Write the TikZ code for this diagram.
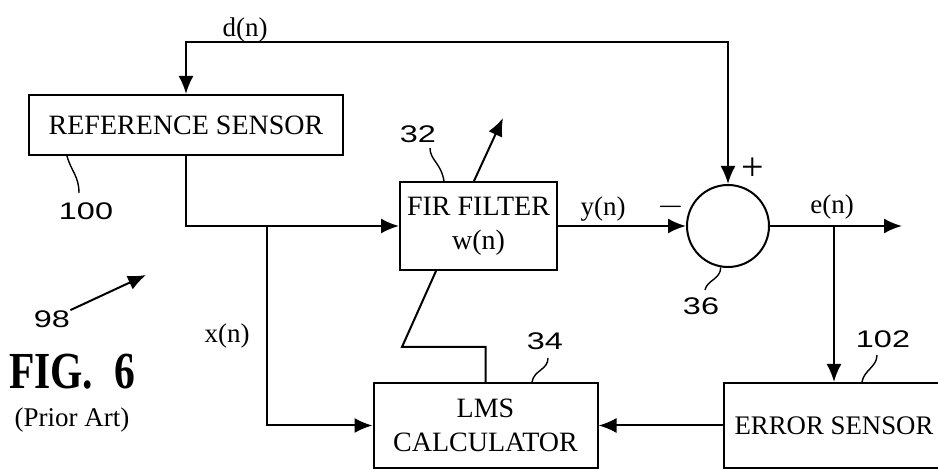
\documentclass[tikz,border=0pt]{standalone}
\usepackage{fontspec}
\setmainfont{Liberation Serif}
\newfontfamily\refnumfont[FakeStretch=1.35]{Liberation Sans}
\newfontfamily\figfont[FakeStretch=0.8]{Liberation Serif}
\usetikzlibrary{positioning, arrows.meta, calc}

\begin{document}
\begin{tikzpicture}[x=0.5pt, y=-0.5pt, >={Latex[length=9pt, width=7.5pt]},
        block/.style = {draw, line width=1pt, inner sep=0pt, align=center, font=\fontsize{14}{17}\selectfont},
        sumnode/.style = {draw, circle, line width=1pt, minimum size=41pt, inner sep=0pt},
        sig/.style = {line width=1pt},
        lead/.style = {line width=0.7pt},
        siglabel/.style = {font=\fontsize{13.5}{16}\selectfont, inner sep=0pt},
        refnum/.style = {font=\refnumfont\fontsize{12}{14}\selectfont, inner sep=0pt},
    ]
        \useasboundingbox (0,0) rectangle (938,470);

        \node[block, minimum width=157pt, minimum height=30pt] (ref) at (186,125) {REFERENCE SENSOR};
        \node[block, minimum width=78.5pt, minimum height=44pt] (fir) at (478.5,226) {FIR FILTER\\w(n)};
        \node[sumnode] (sum) at (728,226) {};
        \node[block, minimum width=112pt, minimum height=42.5pt] (lms) at (485.5,425.5) {LMS\\CALCULATOR};
        \node[block, minimum width=110pt, minimum height=42.5pt, font=\fontsize{13.4}{16}\selectfont] (err) at (834,425.5) {ERROR SENSOR};

        \coordinate (dtop) at (456,42);
        \coordinate (xsplit) at (267,226);
        \coordinate (esplit) at (834,226);
        \coordinate (eout) at (902,226);
        \coordinate (adapt) at (503,118);
        \coordinate (bend) at (402,347);

        \draw[sig, <->] (ref.north) |- (dtop) -| (sum.north);
        \draw[sig, ->] (ref.south) |- (fir.west);
        \draw[sig, ->] (xsplit) |- (lms.west);
        \draw[sig, ->] ([xshift=37.5pt]fir.north west) -- (adapt);
        \draw[sig] ([xshift=18.5pt]fir.south west) -- (bend) -| (lms.north);
        \draw[sig, ->] (fir.east) -- (sum.west);
        \draw[sig, ->] (sum.east) -- (eout);
        \draw[sig, ->] (esplit) -- (esplit |- err.north);
        \draw[sig, ->] (err.west) -- (lms.east);

        \node[siglabel] (dlab) at (245,30) {d(n)};
        \node[siglabel] (xlab) at (227,336) {x(n)};
        \node[siglabel] (ylab) at (603,209) {y(n)};
        \node[siglabel] (elab) at (832,207) {e(n)};
        \node[siglabel, font=\fontsize{18}{20}\selectfont] (minus) at (671,207) {$-$};
        \node[siglabel, font=\fontsize{20}{22}\selectfont] (plus) at (753,169) {+};

        \node[refnum] (l100) at (86,211) {100};
        \node[refnum] (l32) at (418,134) {32};
        \node[refnum] (l34) at (545,341) {34};
        \node[refnum] (l36) at (701,306) {36};
        \node[refnum] (l102) at (883,339) {102};
        \node[refnum] (l98) at (52,319) {98};
        \draw[lead] ([xshift=19.5pt]ref.south west) .. controls +(4,15) and +(0,-17) .. (79,193);
        \draw[lead] ([xshift=22.5pt]fir.north west) .. controls +(-3,-18) and +(0,12) .. (430,148);
        \draw[lead] ([xshift=79.75pt]lms.north west) .. controls +(2,-12) and +(0,12) .. (548,358);
        \draw[lead] (sum.-100) .. controls +(0,12) and +(2,-10) .. (705,290);
        \draw[lead] ([xshift=69.5pt]err.north west) .. controls +(2,-12) and +(0,12) .. (877,355);
        \draw[sig, ->] (l98.north east) -- (146,275);

        \node[font=\figfont\fontsize{26}{28}\selectfont\bfseries] (fig) at (72,372) {FIG.\ \ 6};
        \node[font=\fontsize{13.5}{16}\selectfont] (prior) at (72,420) {(Prior Art)};
    \end{tikzpicture}
\end{document}
